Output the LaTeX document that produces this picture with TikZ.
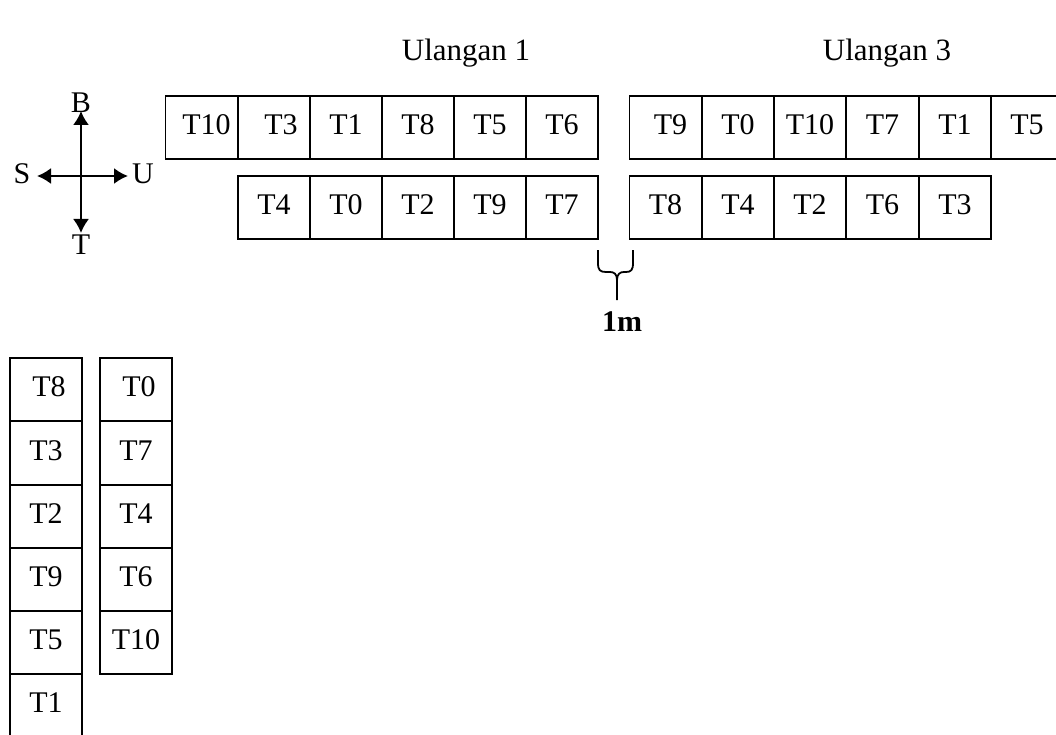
\documentclass[tikz,border=0pt]{standalone}
\usepackage{fontspec}
\setmainfont{Liberation Serif}
\usetikzlibrary{arrows.meta}
\begin{document}
\begin{tikzpicture}[x=1pt,y=-1pt,
  cell/.style={draw,line width=1.9pt,minimum width=72pt,minimum height=63pt,inner sep=0pt,
    text height=20pt,text depth=6pt,font=\fontsize{30}{36}\selectfont},
  lbl/.style={inner sep=0pt,font=\fontsize{30}{36}\selectfont},
  arr/.style={line width=1.9pt,-{Latex[length=14pt,width=16pt]}}]
\useasboundingbox (0,0) rectangle (1056,735);
% titles
\node[lbl,anchor=base,font=\fontsize{31}{36}\selectfont] (u1) at (466,61) {Ulangan 1};
\node[lbl,anchor=base,font=\fontsize{31}{36}\selectfont] (u3) at (887,61) {Ulangan 3};
% left group row 1
\node[cell] (a1) at (201.5,127.5) {\hspace*{10pt}T10};
\node[cell] (a2) at (274,127.5) {\hspace*{14pt}T3};
\node[cell] (a3) at (346,127.5) {T1};
\node[cell] (a4) at (418,127.5) {T8};
\node[cell] (a5) at (490,127.5) {T5};
\node[cell] (a6) at (562,127.5) {T6};
% left group row 2
\node[cell] (b1) at (274,207.5) {T4};
\node[cell] (b2) at (346,207.5) {T0};
\node[cell] (b3) at (418,207.5) {T2};
\node[cell] (b4) at (490,207.5) {T9};
\node[cell] (b5) at (562,207.5) {T7};
% right group row 1
\node[cell] (c1) at (665.5,127.5) {\hspace*{10pt}T9};
\node[cell] (c2) at (738,127.5) {T0};
\node[cell] (c3) at (810,127.5) {T10};
\node[cell] (c4) at (882.5,127.5) {T7};
\node[cell] (c5) at (955,127.5) {T1};
\node[cell] (c6) at (1027,127.5) {T5};
% right group row 2
\node[cell] (d1) at (665.5,207.5) {T8};
\node[cell] (d2) at (738,207.5) {T4};
\node[cell] (d3) at (810,207.5) {T2};
\node[cell] (d4) at (882.5,207.5) {T6};
\node[cell] (d5) at (955,207.5) {T3};
% left columns
\node[cell] (e1) at (46,389.5) {\hspace*{6pt}T8};
\node[cell] (e2) at (46,453) {T3};
\node[cell] (e3) at (46,516.5) {T2};
\node[cell] (e4) at (46,579.5) {T9};
\node[cell] (e5) at (46,642.5) {T5};
\node[cell] (e6) at (46,705.5) {T1};
\node[cell] (f1) at (136,389.5) {\hspace*{6pt}T0};
\node[cell] (f2) at (136,453) {T7};
\node[cell] (f3) at (136,516.5) {T4};
\node[cell] (f4) at (136,579.5) {T6};
\node[cell] (f5) at (136,642.5) {T10};
% compass
\node[lbl] (nB) at (81,103) {B};
\node[lbl] (nT) at (81,245) {T};
\node[lbl] (nS) at (22,174) {S};
\node[lbl] (nU) at (143,174) {U};
\coordinate (cc) at (81,176);
\coordinate (tb) at (81,111);
\coordinate (tt) at (81,233);
\coordinate (ts) at (37,176);
\coordinate (tu) at (128,176);
\draw[arr] (cc) -- (tb);
\draw[arr] (cc) -- (tt);
\draw[arr] (cc) -- (ts);
\draw[arr] (cc) -- (tu);
% brace
\coordinate (bl) at (598,250);
\coordinate (br) at (633,250);
\coordinate (bt) at (617,300);
\node[lbl,font=\fontsize{30}{36}\selectfont\bfseries] (m) at (622,322) {1m};
\draw[line width=1.8pt] (bl) -- (598,263) .. controls (598,270) and (600,272) .. (606,272) -- (610,272)
  .. controls (614,272) and (617,274) .. (617,280) -- (bt);
\draw[line width=1.8pt] (br) -- (633,263) .. controls (633,270) and (631,272) .. (626,272) -- (624,272)
  .. controls (620,272) and (617,274) .. (617,280);
\end{tikzpicture}
\end{document}
